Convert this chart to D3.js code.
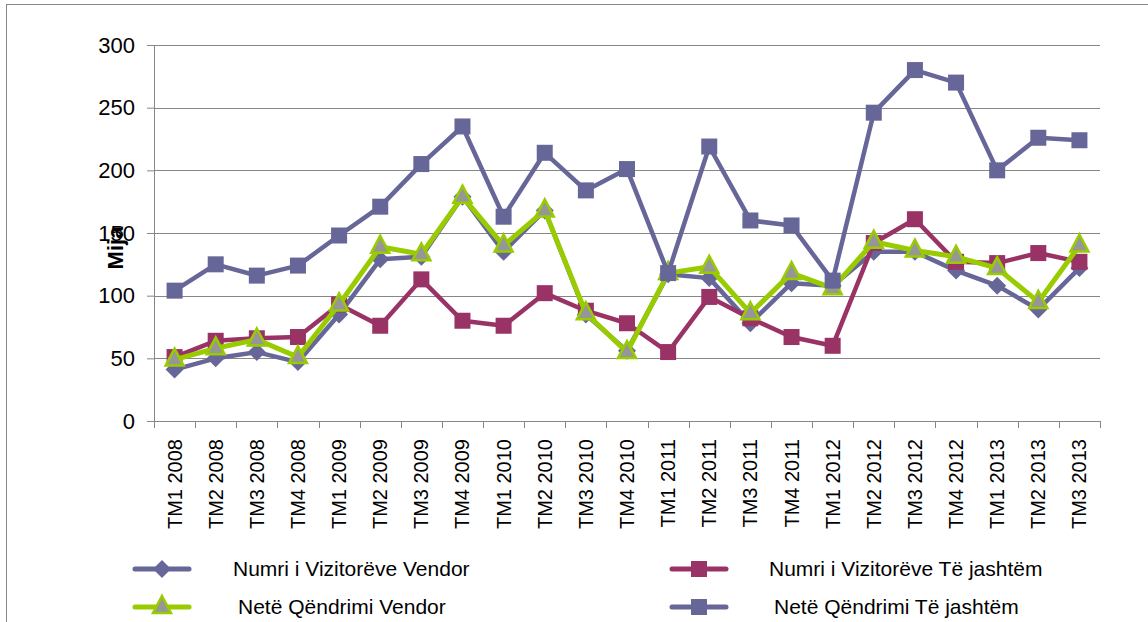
<!DOCTYPE html>
<html>
<head>
<meta charset="utf-8">
<script src="https://cdn.jsdelivr.net/npm/d3@7"></script>
<style>
  body { margin: 0; background: #fff; }
  text { font-family: "Liberation Sans", Arial, sans-serif; fill: #000; }
</style>
</head>
<body>
<div id="chart"></div>
<script>
const width = 1148;
const height = 622;

// Quarters
const quarters = [
  "TM1 2008", "TM2 2008", "TM3 2008", "TM4 2008",
  "TM1 2009", "TM2 2009", "TM3 2009", "TM4 2009",
  "TM1 2010", "TM2 2010", "TM3 2010", "TM4 2010",
  "TM1 2011", "TM2 2011", "TM3 2011", "TM4 2011",
  "TM1 2012", "TM2 2012", "TM3 2012", "TM4 2012",
  "TM1 2013", "TM2 2013", "TM3 2013"
];

// values in thousands (Mija)
const vizitoretVendor = [41, 50, 55, 47, 85, 129, 131, 179, 135, 168, 85, 56, 117, 114, 78, 110, 108, 135, 135, 120, 108, 89, 122];
const vizitoretJashtem = [51, 64, 66, 67, 93, 76, 113, 80, 76, 102, 88, 78, 55, 99, 82, 67, 60, 142, 161, 127, 126, 134, 127];
const netetVendor = [49, 58, 65, 51, 93, 139, 133, 179, 140, 168, 86, 55, 118, 123, 86, 118, 106, 143, 136, 131, 122, 95, 140];
const netetJashtem = [104, 125, 116, 124, 148, 171, 205, 235, 163, 214, 184, 201, 118, 219, 160, 156, 112, 246, 280, 270, 200, 226, 224];

const yTicks = [0, 50, 100, 150, 200, 250, 300];

const series = [
  { name: "Numri i Vizitorëve Vendor", values: vizitoretVendor, color: "#666699", marker: "diamond" },
  { name: "Numri i Vizitorëve Të jashtëm", values: vizitoretJashtem, color: "#993366", marker: "square" },
  { name: "Netë Qëndrimi Vendor", values: netetVendor, color: "#99cc00", marker: "triangle" },
  { name: "Netë Qëndrimi Të jashtëm", values: netetJashtem, color: "#666699", marker: "square" }
];

const plot = { left: 154, right: 1100, top: 45, bottom: 421 };

const svg = d3.select("#chart").append("svg")
  .attr("width", width)
  .attr("height", height);

// outer frame (cut off at right and bottom)
svg.append("rect")
  .attr("x", 6.5).attr("y", 4.5)
  .attr("width", width).attr("height", height)
  .attr("fill", "none")
  .attr("stroke", "#868686");

const x = d3.scaleBand().domain(quarters).range([plot.left, plot.right]);
const y = d3.scaleLinear().domain([0, 300]).range([plot.bottom, plot.top]);
const cx = d => x(d) + x.bandwidth() / 2;

// gridlines + y axis
const yAxis = svg.append("g")
  .attr("transform", `translate(${plot.left},0)`)
  .call(d3.axisLeft(y).tickValues(yTicks).tickSize(7).tickPadding(12));
yAxis.select(".domain").attr("stroke", "#868686");
yAxis.selectAll(".tick line").attr("stroke", "#868686");
yAxis.selectAll(".tick text").style("font-size", "22px");

svg.append("g")
  .selectAll("line")
  .data(yTicks.filter(t => t > 0))
  .join("line")
  .attr("x1", plot.left).attr("x2", plot.right)
  .attr("y1", d => Math.round(y(d)) + 0.5).attr("y2", d => Math.round(y(d)) + 0.5)
  .attr("stroke", "#868686");

// x axis
const xAxisG = svg.append("g").attr("transform", `translate(0,${plot.bottom})`);
xAxisG.append("line")
  .attr("x1", plot.left - 7).attr("x2", plot.right)
  .attr("y1", 0.5).attr("y2", 0.5)
  .attr("stroke", "#868686");
xAxisG.selectAll("line.tk")
  .data(d3.range(quarters.length + 1))
  .join("line")
  .attr("class", "tk")
  .attr("x1", i => Math.round(plot.left + i * x.bandwidth()) + 0.5)
  .attr("x2", i => Math.round(plot.left + i * x.bandwidth()) + 0.5)
  .attr("y1", 0).attr("y2", 7)
  .attr("stroke", "#868686");
xAxisG.selectAll("text")
  .data(quarters)
  .join("text")
  .attr("transform", d => `translate(${cx(d)},18) rotate(-90)`)
  .attr("text-anchor", "end")
  .attr("dy", "0.35em")
  .style("font-size", "20px")
  .text(d => d);

// y axis title
svg.append("text")
  .attr("transform", "translate(115,248) rotate(-90)")
  .attr("text-anchor", "middle")
  .attr("dy", "0.35em")
  .style("font-size", "22px")
  .style("font-weight", "bold")
  .text("Mija");

// markers
function drawMarker(g, s, px, py) {
  if (s.marker === "diamond") {
    g.append("path")
      .attr("d", `M${px},${py - 9}L${px + 9},${py}L${px},${py + 9}L${px - 9},${py}Z`)
      .attr("fill", s.color);
  } else if (s.marker === "square") {
    g.append("rect")
      .attr("x", px - 8).attr("y", py - 8)
      .attr("width", 16).attr("height", 16)
      .attr("fill", s.color);
  } else {
    g.append("path")
      .attr("d", `M${px},${py - 11}L${px + 9},${py + 6}L${px - 9},${py + 6}Z`)
      .attr("fill", "#969696")
      .attr("stroke", s.color)
      .attr("stroke-width", 2.5)
      .attr("stroke-linejoin", "miter");
  }
}

const line = d3.line()
  .x((d, i) => cx(quarters[i]))
  .y(d => y(d));

series.forEach(s => {
  const g = svg.append("g");
  g.append("path")
    .datum(s.values)
    .attr("d", line)
    .attr("fill", "none")
    .attr("stroke", s.color)
    .attr("stroke-width", s.marker === "triangle" ? 5 : 4.5)
    .attr("stroke-linejoin", "round");
  s.values.forEach((v, i) => drawMarker(g, s, cx(quarters[i]), y(v)));
});

// legend
const legendPos = [
  { x: 135, y: 569, tx: 233 },
  { x: 672, y: 569, tx: 769 },
  { x: 135, y: 607, tx: 238 },
  { x: 672, y: 607, tx: 774 }
];
series.forEach((s, i) => {
  const p = legendPos[i];
  const g = svg.append("g");
  g.append("line")
    .attr("x1", p.x).attr("x2", p.x + 54)
    .attr("y1", p.y).attr("y2", p.y)
    .attr("stroke", s.color)
    .attr("stroke-width", 5)
    .attr("stroke-linecap", "round");
  drawMarker(g, s, p.x + 27, p.y);
  g.append("text")
    .attr("x", p.tx).attr("y", p.y)
    .attr("dy", "0.35em")
    .style("font-size", "21px")
    .text(s.name);
});
</script>
</body>
</html>
